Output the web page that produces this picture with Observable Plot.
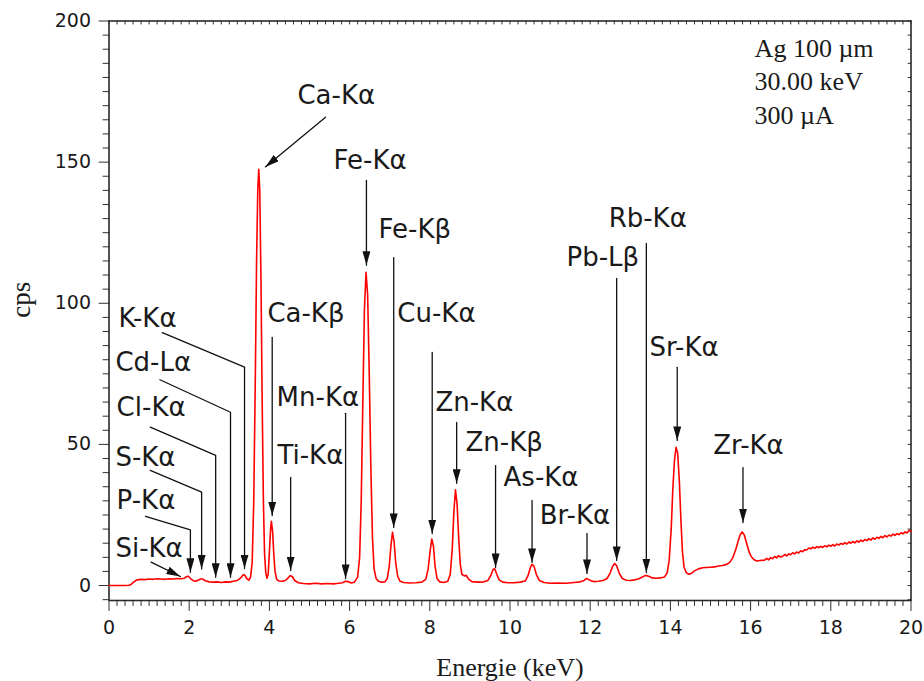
<!DOCTYPE html>
<html>
<head>
<meta charset="utf-8">
<script src="https://cdn.jsdelivr.net/npm/d3@7"></script>
<script src="https://cdn.jsdelivr.net/npm/@observablehq/plot@0.6"></script>
</head>
<body style="margin:0">
<div id="chart"></div>
<script>
// ---- Spectrum (energy in keV, counts per second) ----
const energy = [
  0.00,0.20,0.40,0.50,0.55,0.60,0.65,0.70,0.75,0.80,0.90,1.00,1.10,1.20,1.30,1.40,1.50,1.60,1.70,1.80,
  1.88,1.94,1.98,2.04,2.10,2.16,2.22,2.28,2.33,2.40,2.50,2.60,2.70,2.80,2.90,3.00,3.10,3.20,3.28,3.34,
  3.38,3.44,3.49,3.53,3.57,3.61,3.65,3.68,3.71,3.735,3.76,3.79,3.82,3.85,3.88,3.91,3.94,3.97,4.00,4.03,
  4.05,4.08,4.11,4.14,4.18,4.24,4.32,4.40,4.46,4.52,4.57,4.63,4.72,4.85,5.00,5.15,5.30,5.45,5.60,5.72,
  5.82,5.90,5.96,6.04,6.12,6.20,6.25,6.29,6.33,6.37,6.41,6.45,6.49,6.53,6.57,6.61,6.66,6.72,6.80,6.88,
  6.94,6.99,7.03,7.07,7.11,7.15,7.20,7.26,7.35,7.50,7.65,7.80,7.90,7.96,8.01,8.05,8.09,8.13,8.18,8.25,
  8.35,8.45,8.51,8.56,8.60,8.64,8.68,8.72,8.76,8.80,8.86,8.91,8.96,9.05,9.20,9.35,9.45,9.52,9.58,9.62,
  9.67,9.73,9.82,9.95,10.10,10.25,10.38,10.45,10.51,10.55,10.60,10.66,10.73,10.85,11.00,11.20,11.40,11.60,11.75,11.85,
  11.91,11.98,12.08,12.20,12.32,12.42,12.50,12.56,12.61,12.66,12.72,12.80,12.90,13.00,13.10,13.20,13.30,13.38,13.46,13.55,
  13.65,13.75,13.85,13.92,13.97,14.02,14.06,14.10,14.14,14.18,14.22,14.26,14.30,14.34,14.40,14.46,14.52,14.60,14.70,14.80,
  14.90,15.00,15.10,15.20,15.30,15.40,15.48,15.56,15.63,15.69,15.74,15.79,15.84,15.90,15.96,16.02,16.08,16.15,16.25,16.35,
  16.40,16.45,16.50,16.55,16.60,16.65,16.70,16.75,16.80,16.85,16.90,16.95,17.00,17.05,17.10,17.15,17.20,17.25,17.30,17.35,
  17.40,17.45,17.50,17.55,17.60,17.65,17.70,17.75,17.80,17.85,17.90,17.95,18.00,18.05,18.10,18.15,18.20,18.25,18.30,18.35,
  18.40,18.45,18.50,18.55,18.60,18.65,18.70,18.75,18.80,18.85,18.90,18.95,19.00,19.05,19.10,19.15,19.20,19.25,19.30,19.35,
  19.40,19.45,19.50,19.55,19.60,19.65,19.70,19.75,19.80,19.85,19.90,19.95,20.00
];
const counts = [
  0,0,0,0.1,0.4,1.0,1.6,2.0,2.1,2.2,2.1,2.3,2.2,2.4,2.3,2.2,2.4,2.3,2.5,2.4,
  2.6,3.2,3.3,2.4,1.7,1.5,1.9,2.3,2.3,1.7,1.3,1.2,1.3,1.1,1.3,1.2,1.5,1.8,2.6,3.7,
  3.8,2.4,1.9,3.0,8,30,75,115,140,147.5,140,108,65,30,11,4.5,2.6,4,12,20,
  22.8,19,11,5,2.2,1.6,1.5,1.8,2.6,3.5,3.2,1.8,1.0,0.7,0.6,0.8,0.6,0.7,0.6,0.8,
  1.0,1.5,1.4,0.9,1.2,3,10,30,65,98,111,103,75,42,17,6,2.5,1.5,1.2,1.3,
  2.5,7,14,18.9,15.5,8,3.2,1.5,1.1,0.9,1.0,1.2,2.2,6,12.5,16.5,14,7,2.5,1.3,
  1.1,1.5,4,13,26,33.9,29,17,7.5,4,3.4,3.6,2.4,1.4,1.2,1.3,1.8,3.5,5.8,5.9,
  4,2.0,1.2,1.0,1.0,1.2,1.6,3.5,6.5,7.5,6.8,3.8,1.8,1.1,0.8,0.9,0.8,1.1,1.3,1.8,
  2.5,2.0,1.4,1.5,1.8,2.5,4.5,6.8,7.8,7.0,4.5,2.5,1.9,1.8,2.0,2.3,3.0,3.6,3.3,2.7,
  2.6,2.7,3.0,4.5,9,20,34,44,49,47,38,24,12,6.5,4.5,4.0,4.3,5.2,5.9,6.3,
  6.4,6.5,6.6,6.9,7.1,7.5,8.2,10,12.8,15.8,18,19,18,15,12,10.2,9.2,8.7,8.9,9.0,
  9.6,9.1,9.9,9.5,10.3,9.8,10.6,10.1,10.4,11.0,10.5,11.2,10.9,11.6,11.2,11.9,11.5,12.3,12.0,12.7,
  12.6,13.3,13.0,13.6,13.2,13.8,13.4,13.9,13.5,14.1,13.7,14.3,13.9,14.5,14.0,14.7,14.3,14.9,14.6,15.2,
  14.7,15.4,15.0,15.6,15.1,15.8,15.4,16.1,15.6,16.3,15.9,16.6,16.1,16.9,16.4,17.1,16.7,17.4,16.9,17.7,
  17.2,17.9,17.5,18.2,17.8,18.4,18.0,18.7,18.3,19.0,18.6,19.5,19.2
];

// ---- Peak labels ----
const peakLabels = ["Ca-Kα","Fe-Kα","Fe-Kβ","Cu-Kα","Zn-Kα","Zn-Kβ","As-Kα","Br-Kα","Pb-Lβ","Rb-Kα","Sr-Kα","Zr-Kα",
                    "Ca-Kβ","Mn-Kα","Ti-Kα","K-Kα","Cd-Lα","Cl-Kα","S-Kα","P-Kα","Si-Kα"];
const labelEnergy = [4.70,5.60,6.72,7.19,8.14,8.89,9.84,10.74,11.41,12.46,13.48,15.07,
                     3.95,4.18,4.20,0.24,0.16,0.19,0.16,0.19,0.16];
const labelCps = [173.7,150.6,126.2,96.4,64.9,50.7,38.3,24.8,116.2,130.1,84.4,49.6,
                  96.4,66.6,46.1,94.6,79.0,63.1,45.4,30.1,13.1];

// ---- Arrow leader vertices (one path per label) ----
const arrowName = ["Ca-Kα","Ca-Kα","Fe-Kα","Fe-Kα","Fe-Kβ","Fe-Kβ","Cu-Kα","Cu-Kα","Zn-Kα","Zn-Kα",
  "Zn-Kβ","Zn-Kβ","As-Kα","As-Kα","Br-Kα","Br-Kα","Pb-Lβ","Pb-Lβ","Rb-Kα","Rb-Kα","Sr-Kα","Sr-Kα",
  "Zr-Kα","Zr-Kα","Ca-Kβ","Ca-Kβ","Mn-Kα","Mn-Kα","Ti-Kα","Ti-Kα",
  "K-Kα","K-Kα","K-Kα","Cd-Lα","Cd-Lα","Cd-Lα","Cl-Kα","Cl-Kα","Cl-Kα","S-Kα","S-Kα","S-Kα",
  "P-Kα","P-Kα","P-Kα","Si-Kα","Si-Kα"];
const arrowEnergy = [5.40,3.90,6.42,6.42,7.10,7.10,8.06,8.06,8.67,8.67,
  9.64,9.64,10.55,10.55,11.92,11.92,12.66,12.66,13.40,13.40,14.17,14.17,
  15.81,15.81,4.07,4.07,5.90,5.90,4.53,4.53,
  1.33,3.38,3.38,1.27,3.03,3.03,1.03,2.66,2.66,1.03,2.31,2.31,
  0.91,2.03,2.03,1.05,1.78];
const arrowCps = [165.9,148.3,143.5,113.5,116.2,20.6,82.6,18.4,57.8,36.2,
  42.5,6.4,30.1,8.2,18.4,4.3,108.8,8.9,121.2,4.6,77.3,51.4,
  41.8,22.3,87.9,24.8,61.0,2.5,38.3,5.3,
  89.6,77.4,6.0,72.9,61.4,2.9,56.1,46.1,2.9,40.8,33.1,5.9,
  24.5,19.7,4.7,8.3,3.2];

// ---- Measurement conditions ----
const infoLines = ["Ag 100 µm", "30.00 keV", "300 µA"];
const infoEnergy = [16.10, 16.10, 16.10];
const infoCps = [190.3, 178.6, 166.6];

// ---- Axis ticks ----
const xMajor = [0, 2, 4, 6, 8, 10, 12, 14, 16, 18, 20];
const yMajor = [0, 50, 100, 150, 200];
const xMinor = d3.range(0, 100.5, 1).map(d => d / 5);
const yMinor = d3.range(-1, 40.5, 1).map(d => d * 5);

const spectrum = energy.map((e, i) => ({e, c: counts[i]}));
const labels = peakLabels.map((t, i) => ({t, e: labelEnergy[i], c: labelCps[i]}));
const arrows = arrowName.map((n, i) => ({n, e: arrowEnergy[i], c: arrowCps[i]}));
const info = infoLines.map((t, i) => ({t, e: infoEnergy[i], c: infoCps[i]}));

const W = 924, H = 681, ML = 108.5, MR = 13.5, MT = 20.5, MB = 81;
const xDomain = [0, 20], yDomain = [-5.3, 200];
const pxPerKeV = (W - ML - MR) / (xDomain[1] - xDomain[0]);
const pxPerCps = (H - MT - MB) / (yDomain[1] - yDomain[0]);

// tick segments (lengths in pixels converted to data units)
const tickSegs = [];
xMinor.forEach((v, i) => {
  const len = xMajor.includes(v) ? 10 : 5;
  tickSegs.push({k: "b" + i, e: v, c: yDomain[0]}, {k: "b" + i, e: v, c: yDomain[0] - len / pxPerCps});
  tickSegs.push({k: "t" + i, e: v, c: yDomain[1]}, {k: "t" + i, e: v, c: yDomain[1] - 3 / pxPerCps});
});
yMinor.forEach((v, i) => {
  const len = yMajor.includes(v) ? 10 : 6;
  tickSegs.push({k: "l" + i, e: xDomain[0], c: v}, {k: "l" + i, e: xDomain[0] - len / pxPerKeV, c: v});
  tickSegs.push({k: "r" + i, e: xDomain[1], c: v}, {k: "r" + i, e: xDomain[1] - 3 / pxPerKeV, c: v});
});

const sans = "DejaVu Sans";
const serif = "Liberation Serif";
const ink = "#1a1a1a";
const axisInk = "#303030";
const arrowInk = "#111111";

const chart = Plot.plot({
  width: W,
  height: H,
  marginLeft: ML,
  marginRight: MR,
  marginTop: MT,
  marginBottom: MB,
  x: {domain: xDomain},
  y: {domain: yDomain},
  style: {fontFamily: sans, background: "#ffffff", color: ink},
  marks: [
    Plot.axisX({ticks: xMajor, tickSize: 0, tickPadding: 20, fontSize: 19, label: null, fill: ink}),
    Plot.axisY({ticks: yMajor, tickSize: 0, tickPadding: 18, fontSize: 19, label: null, fill: ink}),
    Plot.frame({stroke: "#2a2a2a", strokeWidth: 1.6}),
    Plot.line(tickSegs, {x: "e", y: "c", z: "k", stroke: axisInk, strokeWidth: 1}),
    Plot.line(spectrum, {x: "e", y: "c", stroke: "#ff0000", strokeWidth: 1.6, curve: "linear"}),
    Plot.line(arrows, {x: "e", y: "c", z: "n", stroke: arrowInk, strokeWidth: 1.3}),
    Plot.text(labels, {x: "e", y: "c", text: "t", textAnchor: "start", lineAnchor: "middle",
      fontSize: 26, fontFamily: sans, fill: ink}),
    Plot.text(info, {x: "e", y: "c", text: "t", textAnchor: "start", lineAnchor: "middle",
      fontSize: 26, fontFamily: serif, fill: ink}),
    Plot.text(["Energie (keV)"], {frameAnchor: "bottom", dy: 67, lineAnchor: "middle",
      fontSize: 26, fontFamily: serif, fill: ink}),
    Plot.text(["cps"], {frameAnchor: "left", dx: -88, dy: 7, rotate: -90, lineAnchor: "middle",
      fontSize: 27, fontFamily: serif, fill: ink})
  ]
});

// Filled arrowheads at the end of each leader line
const svg = d3.select(chart);
const defs = svg.insert("defs", ":first-child");
defs.append("marker")
  .attr("id", "ahead")
  .attr("viewBox", "0 0 14 8")
  .attr("refX", 14).attr("refY", 4)
  .attr("markerWidth", 14).attr("markerHeight", 8)
  .attr("markerUnits", "userSpaceOnUse")
  .attr("orient", "auto")
  .append("path")
  .attr("d", "M0,0L14,4L0,8Z")
  .attr("fill", arrowInk);
svg.selectAll('g[aria-label="line"][stroke="' + arrowInk + '"] path').attr("marker-end", "url(#ahead)");

document.getElementById("chart").appendChild(chart);
</script>
</body>
</html>
